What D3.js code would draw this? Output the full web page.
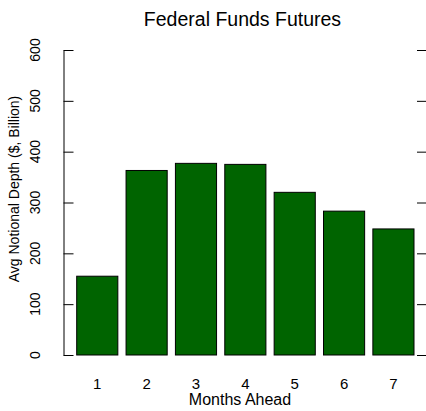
<!DOCTYPE html>
<html><head><meta charset="utf-8">
<script src="https://cdn.jsdelivr.net/npm/d3@7"></script>
<style>body{margin:0;background:#fff}svg{display:block}text{font-family:"Liberation Sans",Arial,sans-serif;fill:#000}</style>
</head><body>
<script>
const categories = ["1","2","3","4","5","6","7"];
const values = [155, 363, 377, 375, 320, 283, 248];
const yTicks = [0, 100, 200, 300, 400, 500, 600];
const title = "Federal Funds Futures";
const xTitle = "Months Ahead";
const yTitle = "Avg Notional Depth ($, Billion)";

const W = 426, H = 411;
const svg = d3.select("body").append("svg").attr("width", W).attr("height", H);

const x = d3.scaleBand().domain(categories).range([76.7, 414]).paddingInner(1/6).paddingOuter(0);
const y = d3.scaleLinear().domain([0, 600]).range([355, 50]);

// bars
svg.append("g").selectAll("rect").data(values).join("rect")
  .attr("x", (d, i) => x(categories[i]))
  .attr("y", d => y(d))
  .attr("width", x.bandwidth())
  .attr("height", d => y(0) - y(d))
  .attr("fill", "#006400")
  .attr("stroke", "#000")
  .attr("stroke-width", 1);

// left axis (ticks inward)
const left = svg.append("g").attr("transform", "translate(63.5,0)")
  .call(d3.axisRight(y).tickValues(yTicks).tickSize(10).tickSizeOuter(0).tickFormat(""));
left.select(".domain").attr("stroke", "#000");
left.selectAll(".tick line").attr("stroke", "#000");

// right ticks
const right = svg.append("g").attr("transform", "translate(426,0)")
  .call(d3.axisLeft(y).tickValues(yTicks).tickSize(9).tickSizeOuter(0).tickFormat(""));
right.select(".domain").remove();
right.selectAll(".tick line").attr("stroke", "#000");

// y tick labels rotated
svg.append("g").selectAll("text").data(yTicks).join("text")
  .attr("transform", d => `translate(40,${y(d)}) rotate(-90)`)
  .attr("text-anchor", "middle")
  .attr("font-size", 14)
  .text(d => d);

// x tick labels
svg.append("g").selectAll("text").data(categories).join("text")
  .attr("x", d => x(d) + x.bandwidth() / 2)
  .attr("y", 389)
  .attr("text-anchor", "middle")
  .attr("font-size", 15)
  .text(d => d);

svg.append("text").attr("x", 240).attr("y", 405).attr("text-anchor", "middle")
  .attr("font-size", 16).text(xTitle);

svg.append("text").attr("transform", `translate(19,189) rotate(-90)`)
  .attr("text-anchor", "middle").attr("font-size", 14).text(yTitle);

svg.append("text").attr("x", 242.5).attr("y", 26).attr("text-anchor", "middle")
  .attr("font-size", 19.5).text(title);
</script>
</body></html>
